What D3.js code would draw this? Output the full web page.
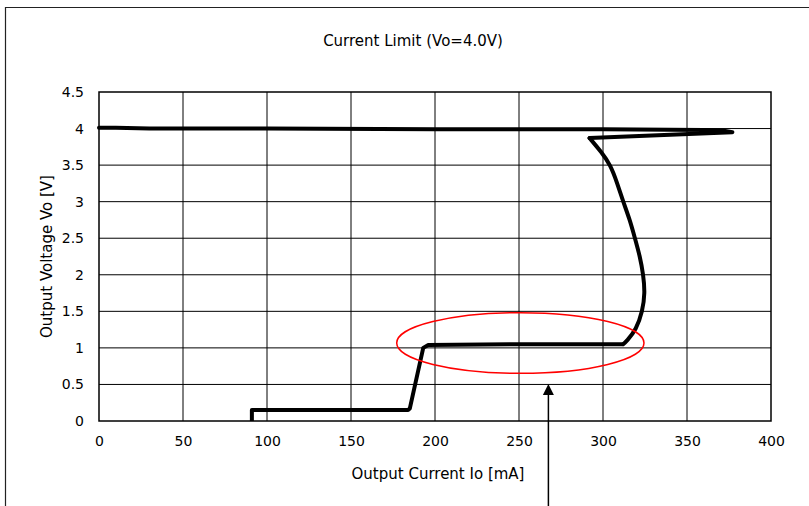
<!DOCTYPE html>
<html>
<head>
<meta charset="utf-8">
<script src="https://cdn.jsdelivr.net/npm/d3@7"></script>
<style>
  html, body { margin: 0; padding: 0; background: #fff; }
  svg { display: block; }
  text { font-family: "DejaVu Sans", "Liberation Sans", Arial, sans-serif; fill: #000; }
</style>
</head>
<body>
<svg id="chart" width="809" height="506"></svg>
<script>
// Output current Io [mA] / output voltage Vo [V], in sweep order.
// Regulated branch: load increases at Vo ~ 4.0 V up to the limit, then snaps back
const regCurrent = [0, 10, 30, 100, 200, 300, 360, 372, 377, 292];
const regVoltage = [4.01, 4.01, 4.0, 4.0, 3.99, 3.99, 3.98, 3.97, 3.95, 3.87];
// Foldback branch: smooth bend from the limit down to the plateau
const foldCurrent = [292, 299, 304.5, 308.5, 312, 316, 319, 322, 324, 325, 323.5, 319.8, 314, 312];
const foldVoltage = [3.87, 3.68, 3.5, 3.25, 3.0, 2.75, 2.5, 2.25, 2.0, 1.75, 1.5, 1.25, 1.09, 1.05];
// Plateau and final drop to 0 V
const lowCurrent = [312, 250, 196, 193, 185, 184, 91, 91];
const lowVoltage = [1.05, 1.05, 1.04, 1.0, 0.17, 0.15, 0.15, 0.0];

// Axis ticks
const xTicks = [0, 50, 100, 150, 200, 250, 300, 350, 400];
const yTicks = [0, 0.5, 1, 1.5, 2, 2.5, 3, 3.5, 4, 4.5];

// Highlight ellipse around the plateau (centre, half-widths in data units)
const ellipseCenter = [250.8, 1.067];
const ellipseRadii = [73.6, 0.415];
// Arrow tip pointing up at the plateau
const arrowAt = [267.5, 0.507];

const titleText = "Current Limit (Vo=4.0V)";
const xTitle = "Output Current Io [mA]";
const yTitle = "Output Voltage Vo [V]";

const svg = d3.select("#chart");
const W = 809, H = 506;
const plot = { left: 99, right: 771, top: 92, bottom: 421 };
const FONT = "DejaVu Sans, Liberation Sans, Arial, sans-serif";

const x = d3.scaleLinear().domain([0, 400]).range([plot.left, plot.right]);
const y = d3.scaleLinear().domain([0, 4.5]).range([plot.bottom, plot.top]);

// Outer frame
svg.append("path")
  .attr("d", `M5.5,${H} V7.5 H${W}`)
  .attr("fill", "none").attr("stroke", "#222").attr("stroke-width", 1.2);

// Title
svg.append("text")
  .attr("x", 413).attr("y", 46)
  .attr("text-anchor", "middle")
  .attr("font-size", 15)
  .text(titleText);

// Gridlines
const grid = svg.append("g");
grid.selectAll("line.v").data(xTicks.slice(1, -1)).join("line")
  .attr("x1", d => x(d)).attr("x2", d => x(d))
  .attr("y1", plot.top).attr("y2", plot.bottom)
  .attr("stroke", "#000").attr("stroke-width", 1);
grid.selectAll("line.h").data(yTicks.slice(1, -1)).join("line")
  .attr("x1", plot.left).attr("x2", plot.right)
  .attr("y1", d => y(d)).attr("y2", d => y(d))
  .attr("stroke", "#000").attr("stroke-width", 1);

// Plot border
svg.append("rect")
  .attr("x", plot.left).attr("y", plot.top)
  .attr("width", plot.right - plot.left).attr("height", plot.bottom - plot.top)
  .attr("fill", "none").attr("stroke", "#000").attr("stroke-width", 1.5);

// Axes (labels only; the border draws the lines)
const xAxis = d3.axisBottom(x).tickValues(xTicks).tickSize(0).tickPadding(15)
  .tickFormat(d3.format("d"));
const gx = svg.append("g").attr("transform", `translate(0,${plot.bottom})`).call(xAxis);
gx.select(".domain").remove();
gx.selectAll("text").attr("font-size", 14).style("font-family", FONT).attr("fill", "#000");

const yAxis = d3.axisLeft(y).tickValues(yTicks).tickSize(0).tickPadding(15)
  .tickFormat(d => d3.format("")(d));
const gy = svg.append("g").attr("transform", `translate(${plot.left},0)`).call(yAxis);
gy.select(".domain").remove();
gy.selectAll("text").attr("font-size", 14).style("font-family", FONT).attr("fill", "#000");

// Axis titles
svg.append("text")
  .attr("x", 438).attr("y", 479)
  .attr("text-anchor", "middle").attr("font-size", 15)
  .text(xTitle);
svg.append("text")
  .attr("transform", `translate(52,${(plot.top + plot.bottom) / 2}) rotate(-90)`)
  .attr("text-anchor", "middle").attr("font-size", 15)
  .text(yTitle);

// Measured curve
const zip = (a, b) => a.map((v, i) => [v, b[i]]);
const straight = d3.line().x(d => x(d[0])).y(d => y(d[1])).curve(d3.curveLinear);
const smooth = d3.line().x(d => x(d[0])).y(d => y(d[1])).curve(d3.curveBasis);
const curveStyle = sel => sel
  .attr("fill", "none").attr("stroke", "#000").attr("stroke-width", 4)
  .attr("stroke-linejoin", "round").attr("stroke-linecap", "round");

svg.append("path").datum(zip(regCurrent, regVoltage)).attr("d", straight).call(curveStyle);
svg.append("path").datum(zip(foldCurrent, foldVoltage)).attr("d", smooth).call(curveStyle);
svg.append("path").datum(zip(lowCurrent, lowVoltage)).attr("d", straight).call(curveStyle)
  .attr("stroke-linecap", "butt");

// Highlight ellipse
svg.append("ellipse")
  .attr("cx", x(ellipseCenter[0])).attr("cy", y(ellipseCenter[1]))
  .attr("rx", x(ellipseCenter[0] + ellipseRadii[0]) - x(ellipseCenter[0]))
  .attr("ry", y(ellipseCenter[1]) - y(ellipseCenter[1] + ellipseRadii[1]))
  .attr("fill", "none").attr("stroke", "#f00").attr("stroke-width", 1.5);

// Arrow
const ax = x(arrowAt[0]), ay = y(arrowAt[1]);
svg.append("line")
  .attr("x1", ax).attr("x2", ax).attr("y1", ay + 8).attr("y2", H)
  .attr("stroke", "#000").attr("stroke-width", 1.5);
svg.append("path")
  .attr("d", `M${ax},${ay} L${ax - 5.5},${ay + 11} L${ax + 5.5},${ay + 11} Z`)
  .attr("fill", "#000");
</script>
</body>
</html>
